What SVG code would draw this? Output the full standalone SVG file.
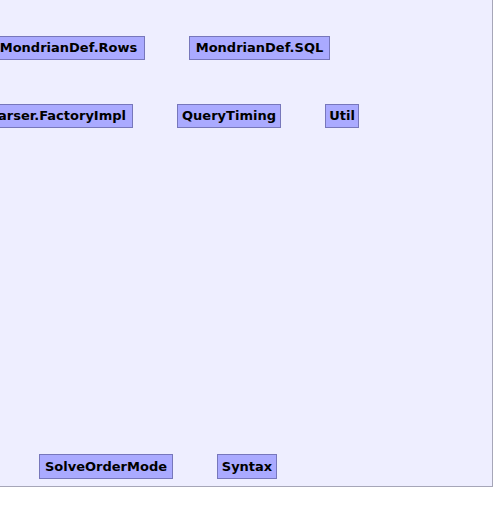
<svg xmlns="http://www.w3.org/2000/svg" width="493" height="522" viewBox="0 0 493 522">
<style>
.bg{fill:#eeeeff;stroke:#a6a6b8;stroke-width:1}
.n rect{fill:#aaaaff;stroke:#7777bb;stroke-width:1}
.n text{font-family:"DejaVu Sans",sans-serif;font-weight:bold;font-size:13px;fill:#000;text-anchor:middle}
</style>
<rect width="493" height="522" fill="#ffffff"/>
<rect class="bg" x="-1" y="-1" width="493.5" height="487.5"/>
<g id="connectors"></g>
<g id="MondrianDef.Rows" class="n"><rect x="-7.5" y="36.5" width="152" height="23"/><text x="68.5" y="52">MondrianDef.Rows</text></g>
<g id="MondrianDef.SQL" class="n"><rect x="189.5" y="36.5" width="140" height="23"/><text x="259.5" y="52">MondrianDef.SQL</text></g>
<g id="Parser.FactoryImpl" class="n"><rect x="-30" y="104.5" width="162.5" height="23"/><text x="126" y="120" style="text-anchor:end">Parser.FactoryImpl</text></g>
<g id="QueryTiming" class="n"><rect x="177.5" y="104.5" width="103" height="23"/><text x="229" y="120">QueryTiming</text></g>
<g id="Util" class="n"><rect x="325.5" y="104.5" width="33" height="23"/><text x="342" y="120">Util</text></g>
<g id="SolveOrderMode" class="n"><rect x="39.5" y="454.5" width="133" height="24"/><text x="106" y="470.5">SolveOrderMode</text></g>
<g id="Syntax" class="n"><rect x="217.5" y="454.5" width="59" height="24"/><text x="247" y="470.5">Syntax</text></g>
</svg>
